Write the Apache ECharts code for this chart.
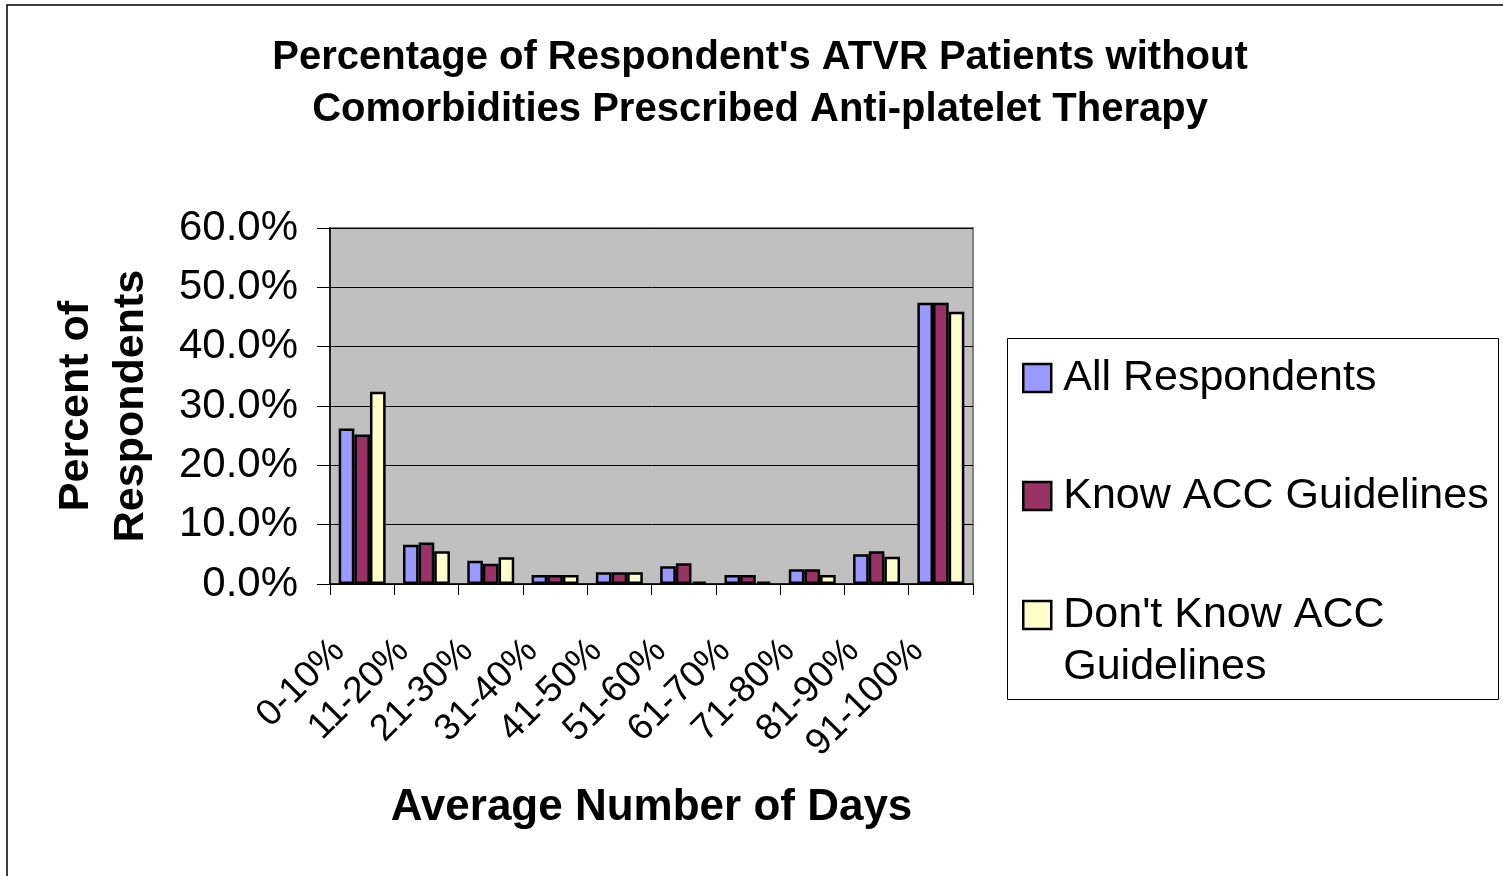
<!DOCTYPE html>
<html>
<head>
<meta charset="utf-8">
<script src="https://cdn.jsdelivr.net/npm/echarts@6/dist/echarts.min.js"></script>
<style>
html,body{margin:0;padding:0;background:#fff;}
#chart{width:1503px;height:876px;}
</style>
</head>
<body>
<div id="chart"></div>
<script>
const categories = ['0-10%','11-20%','21-30%','31-40%','41-50%','51-60%','61-70%','71-80%','81-90%','91-100%'];
const allRespondents = [26.2, 6.6, 3.9, 1.5, 2.0, 3.0, 1.5, 2.5, 5.0, 47.4];
const knowACC = [25.2, 7.0, 3.4, 1.5, 2.0, 3.5, 1.5, 2.5, 5.5, 47.4];
const dontKnowACC = [32.4, 5.5, 4.5, 1.5, 2.0, 0.4, 0.4, 1.5, 4.6, 45.9];
const seriesNames = ['All Respondents', 'Know ACC Guidelines', "Don't Know ACC Guidelines"];
const yTicks = [0, 10, 20, 30, 40, 50, 60];

const FONT = '"Liberation Sans", Arial, sans-serif';
const chart = echarts.init(document.getElementById('chart'), null, {renderer: 'canvas'});

const legendText = {fontFamily: FONT, fontSize: 43, color: '#000', lineHeight: 52, padding: [0,0,0,7]};
const legendBase = {
  left: 1022, orient: 'vertical', itemWidth: 28, itemHeight: 28, padding: 0,
  selectedMode: false, icon: 'rect',
  itemStyle: {borderColor: '#000', borderWidth: 2.5},
  textStyle: legendText
};

const option = {
  backgroundColor: '#fff',
  animation: false,
  title: {
    text: "Percentage of Respondent's ATVR Patients without\nComorbidities Prescribed Anti-platelet Therapy",
    left: 760, textAlign: 'center', top: 32, padding: 0,
    textStyle: {fontFamily: FONT, fontSize: 40, fontWeight: 'bold', color: '#000', lineHeight: 52}
  },
  legend: [
    Object.assign({}, legendBase, {top: 352, data: [seriesNames[0]]}),
    Object.assign({}, legendBase, {top: 470, data: [seriesNames[1]]}),
    Object.assign({}, legendBase, {top: 537, data: [seriesNames[2]],
      formatter: function(){ return "\nDon't Know ACC\nGuidelines"; }})
  ],
  graphic: [
    {type: 'rect', shape: {x: 7, y: 5, width: 1600, height: 1000}, style: {fill: 'none', stroke: '#000', lineWidth: 1.5}, silent: true, z: -10},
    {type: 'rect', shape: {x: 1007.5, y: 338.5, width: 491, height: 361}, style: {fill: 'none', stroke: '#000', lineWidth: 1}, silent: true, z: -5}
  ],
  grid: {
    left: 330, top: 228, width: 643, height: 356,
    show: true, backgroundColor: '#c0c0c0', borderColor: '#808080', borderWidth: 2
  },
  xAxis: {
    type: 'category', data: categories,
    axisLine: {lineStyle: {color: '#000', width: 1.5}},
    axisTick: {show: true, length: 11, lineStyle: {color: '#000', width: 1}},
    axisLabel: {rotate: 45, interval: 0, margin: 38, padding: [0,33,0,0], fontFamily: FONT, fontSize: 37, color: '#000'},
    name: 'Average Number of Days', nameLocation: 'middle', nameGap: 202,
    nameTextStyle: {fontFamily: FONT, fontSize: 44, fontWeight: 'bold', color: '#000'}
  },
  yAxis: {
    type: 'value', min: yTicks[0], max: yTicks[yTicks.length-1], interval: 10,
    axisLine: {show: true, lineStyle: {color: '#000', width: 1.5}},
    axisTick: {show: true, length: 13, lineStyle: {color: '#000', width: 1}},
    axisLabel: {margin: 32, fontFamily: FONT, fontSize: 42, color: '#000', padding: [6,0,0,0],
      formatter: function(v){ return v.toFixed(1) + '%'; }},
    splitLine: {show: true, lineStyle: {color: '#000', width: 1}},
    name: 'Percent of\nRespondents', nameLocation: 'middle', nameRotate: 90, nameGap: 171,
    nameTextStyle: {fontFamily: FONT, fontSize: 43, fontWeight: 'bold', color: '#000', lineHeight: 55}
  },
  series: [
    {name: seriesNames[0], type: 'bar', data: allRespondents, barGap: '0%', barCategoryGap: '27%',
      itemStyle: {color: '#9999ff', borderColor: '#000', borderWidth: 2.5}},
    {name: seriesNames[1], type: 'bar', data: knowACC, barGap: '0%', barCategoryGap: '27%',
      itemStyle: {color: '#993366', borderColor: '#000', borderWidth: 2.5}},
    {name: seriesNames[2], type: 'bar', data: dontKnowACC, barGap: '0%', barCategoryGap: '27%',
      itemStyle: {color: '#ffffcc', borderColor: '#000', borderWidth: 2.5}}
  ]
};
chart.setOption(option);
</script>
</body>
</html>
